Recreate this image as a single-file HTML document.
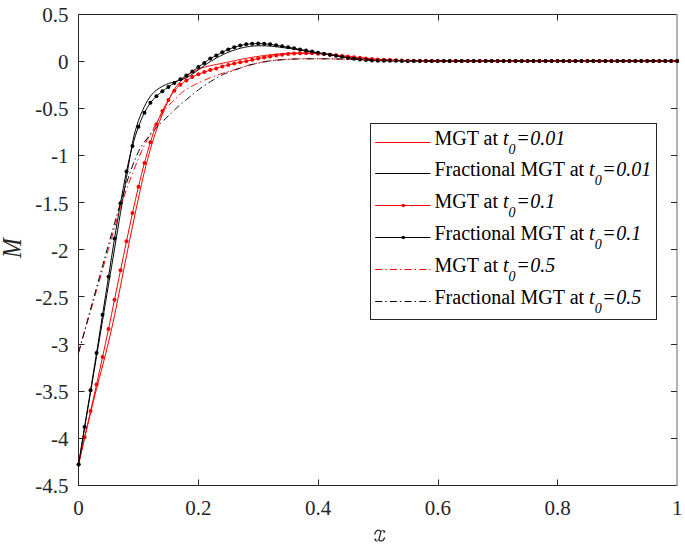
<!DOCTYPE html>
<html><head><meta charset="utf-8"><style>
html,body{margin:0;padding:0;background:#fff;}
body{width:685px;height:545px;overflow:hidden;}
svg{display:block;}
text{font-family:"Liberation Serif",serif;}
</style></head><body>
<svg width="685" height="545" viewBox="0 0 685 545"><rect width="685" height="545" fill="#fff"/><g stroke="#262626" stroke-width="1" fill="none"><path d="M78.5,14.5 H677 M78.5,485.5 H677 M78.5,14 V486"/><path d="M677,14 V486" stroke="#8a8a8a" stroke-width="1.3"/><path d="M198.5,485.5 V479.5 M198.5,14.5 V20.5 M318.5,485.5 V479.5 M318.5,14.5 V20.5 M438.5,485.5 V479.5 M438.5,14.5 V20.5 M557.5,485.5 V479.5 M557.5,14.5 V20.5 M78.5,61.5 H84.5 M677,61.5 H671 M78.5,108.5 H84.5 M677,108.5 H671 M78.5,155.5 H84.5 M677,155.5 H671 M78.5,202.5 H84.5 M677,202.5 H671 M78.5,249.5 H84.5 M677,249.5 H671 M78.5,296.5 H84.5 M677,296.5 H671 M78.5,344.5 H84.5 M677,344.5 H671 M78.5,391.5 H84.5 M677,391.5 H671 M78.5,438.5 H84.5 M677,438.5 H671"/></g><g fill="none" stroke-linejoin="round"><path d="M78.60,464.39 L80.10,457.80 L81.59,451.25 L83.09,444.75 L84.59,438.30 L86.08,431.89 L87.58,425.53 L89.08,419.22 L90.57,412.96 L92.07,406.76 L93.56,400.60 L95.06,394.57 L96.56,388.68 L98.05,382.91 L99.55,377.22 L101.05,371.55 L102.54,365.87 L104.04,360.14 L105.54,354.31 L107.03,348.35 L108.53,342.21 L110.03,335.85 L111.52,329.25 L113.02,322.42 L114.52,315.41 L116.01,308.23 L117.51,300.92 L119.01,293.51 L120.50,286.02 L122.00,278.48 L123.50,270.92 L124.99,263.37 L126.49,255.87 L127.98,248.43 L129.48,241.08 L130.98,233.84 L132.47,226.57 L133.97,219.30 L135.47,212.09 L136.96,204.98 L138.46,198.03 L139.96,191.19 L141.45,184.45 L142.95,177.91 L144.45,171.65 L145.94,165.65 L147.44,159.87 L148.94,154.32 L150.43,149.03 L151.93,144.01 L153.43,139.21 L154.92,134.61 L156.42,130.19 L157.91,125.94 L159.41,121.86 L160.91,117.94 L162.40,114.17 L163.90,110.54 L165.40,107.05 L166.89,103.69 L168.39,100.51 L169.89,97.43 L171.38,94.44 L172.88,91.66 L174.38,89.20 L175.87,87.04 L177.37,85.07 L178.87,83.28 L180.36,81.67 L181.86,80.21 L183.36,78.89 L184.85,77.66 L186.35,76.49 L187.84,75.33 L189.34,74.21 L190.84,73.17 L192.33,72.25 L193.83,71.44 L195.33,70.71 L196.82,70.05 L198.32,69.42 L199.82,68.82 L201.31,68.25 L202.81,67.73 L204.31,67.25 L205.80,66.83 L207.30,66.45 L208.80,66.09 L210.29,65.74 L211.79,65.41 L213.28,65.09 L214.78,64.79 L216.28,64.49 L217.77,64.19 L219.27,63.90 L220.77,63.60 L222.26,63.29 L223.76,62.98 L225.26,62.66 L226.75,62.34 L228.25,62.02 L229.75,61.70 L231.24,61.38 L232.74,61.06 L234.24,60.75 L235.73,60.44 L237.23,60.12 L238.73,59.80 L240.22,59.48 L241.72,59.17 L243.22,58.87 L244.71,58.58 L246.21,58.30 L247.70,58.04 L249.20,57.79 L250.70,57.54 L252.19,57.31 L253.69,57.08 L255.19,56.85 L256.68,56.63 L258.18,56.42 L259.68,56.20 L261.17,55.98 L262.67,55.77 L264.17,55.56 L265.66,55.36 L267.16,55.17 L268.66,54.99 L270.15,54.81 L271.65,54.65 L273.14,54.49 L274.64,54.34 L276.14,54.19 L277.63,54.05 L279.13,53.92 L280.63,53.79 L282.12,53.68 L283.62,53.58 L285.12,53.47 L286.61,53.37 L288.11,53.27 L289.61,53.18 L291.10,53.11 L292.60,53.06 L294.10,53.02 L295.59,53.00 L297.09,52.99 L298.59,52.97 L300.08,52.96 L301.58,52.95 L303.08,52.94 L304.57,52.93 L306.07,52.93 L307.56,52.94 L309.06,52.96 L310.56,53.00 L312.05,53.05 L313.55,53.11 L315.05,53.17 L316.54,53.24 L318.04,53.31 L319.54,53.39 L321.03,53.51 L322.53,53.64 L324.03,53.79 L325.52,53.95 L327.02,54.12 L328.52,54.28 L330.01,54.44 L331.51,54.59 L333.00,54.75 L334.50,54.92 L336.00,55.08 L337.49,55.25 L338.99,55.42 L340.49,55.59 L341.98,55.76 L343.48,55.92 L344.98,56.09 L346.47,56.26 L347.97,56.42 L349.47,56.59 L350.96,56.75 L352.46,56.92 L353.96,57.08 L355.45,57.23 L356.95,57.39 L358.45,57.55 L359.94,57.71 L361.44,57.86 L362.94,58.01 L364.43,58.16 L365.93,58.30 L367.42,58.44 L368.92,58.58 L370.42,58.72 L371.91,58.86 L373.41,58.99 L374.91,59.12 L376.40,59.23 L377.90,59.34 L379.40,59.44 L380.89,59.53 L382.39,59.62 L383.89,59.71 L385.38,59.80 L386.88,59.88 L388.38,59.96 L389.87,60.03 L391.37,60.10 L392.87,60.16 L394.36,60.22 L395.86,60.28 L397.35,60.33 L398.85,60.38 L400.35,60.43 L401.84,60.48 L403.34,60.52 L404.84,60.57 L406.33,60.61 L407.83,60.64 L409.33,60.67 L410.82,60.70 L412.32,60.73 L413.82,60.75 L415.31,60.77 L416.81,60.79 L418.31,60.80 L419.80,60.82 L421.30,60.84 L422.80,60.85 L424.29,60.87 L425.79,60.88 L427.28,60.89 L428.78,60.91 L430.28,60.92 L431.77,60.92 L433.27,60.93 L434.77,60.93 L436.26,60.94 L437.76,60.94 L439.26,60.94 L440.75,60.94 L442.25,60.94 L443.75,60.94 L445.24,60.94 L446.74,60.94 L448.24,60.94 L449.73,60.94 L451.23,60.94 L452.73,60.94 L454.22,60.94 L455.72,60.94 L457.21,60.94 L458.71,60.94 L460.21,60.94 L461.70,60.94 L463.20,60.94 L464.70,60.94 L466.19,60.94 L467.69,60.94 L469.19,60.94 L470.68,60.94 L472.18,60.94 L473.68,60.94 L475.17,60.94 L476.67,60.94 L478.17,60.94 L479.66,60.94 L481.16,60.94 L482.66,60.94 L484.15,60.94 L485.65,60.94 L487.14,60.94 L488.64,60.94 L490.14,60.94 L491.63,60.94 L493.13,60.94 L494.63,60.94 L496.12,60.94 L497.62,60.94 L499.12,60.94 L500.61,60.94 L502.11,60.94 L503.61,60.94 L505.10,60.94 L506.60,60.94 L508.10,60.94 L509.59,60.94 L511.09,60.94 L512.59,60.94 L514.08,60.94 L515.58,60.94 L517.07,60.94 L518.57,60.94 L520.07,60.94 L521.56,60.94 L523.06,60.94 L524.56,60.94 L526.05,60.94 L527.55,60.94 L529.05,60.94 L530.54,60.94 L532.04,60.94 L533.54,60.94 L535.03,60.94 L536.53,60.94 L538.03,60.94 L539.52,60.94 L541.02,60.94 L542.51,60.94 L544.01,60.94 L545.51,60.94 L547.00,60.94 L548.50,60.94 L550.00,60.94 L551.49,60.94 L552.99,60.94 L554.49,60.94 L555.98,60.94 L557.48,60.94 L558.98,60.94 L560.47,60.94 L561.97,60.94 L563.47,60.94 L564.96,60.94 L566.46,60.94 L567.96,60.94 L569.45,60.94 L570.95,60.94 L572.45,60.94 L573.94,60.94 L575.44,60.94 L576.93,60.94 L578.43,60.94 L579.93,60.94 L581.42,60.94 L582.92,60.94 L584.42,60.94 L585.91,60.94 L587.41,60.94 L588.91,60.94 L590.40,60.94 L591.90,60.94 L593.40,60.94 L594.89,60.94 L596.39,60.94 L597.89,60.94 L599.38,60.94 L600.88,60.94 L602.38,60.94 L603.87,60.94 L605.37,60.94 L606.86,60.94 L608.36,60.94 L609.86,60.94 L611.35,60.94 L612.85,60.94 L614.35,60.94 L615.84,60.94 L617.34,60.94 L618.84,60.94 L620.33,60.94 L621.83,60.94 L623.33,60.94 L624.82,60.94 L626.32,60.94 L627.82,60.94 L629.31,60.94 L630.81,60.94 L632.31,60.94 L633.80,60.94 L635.30,60.94 L636.79,60.94 L638.29,60.94 L639.79,60.94 L641.28,60.94 L642.78,60.94 L644.28,60.94 L645.77,60.94 L647.27,60.94 L648.77,60.94 L650.26,60.94 L651.76,60.94 L653.26,60.94 L654.75,60.94 L656.25,60.94 L657.75,60.94 L659.24,60.94 L660.74,60.94 L662.24,60.94 L663.73,60.94 L665.23,60.94 L666.72,60.94 L668.22,60.94 L669.72,60.94 L671.21,60.94 L672.71,60.94 L674.21,60.94 L675.70,60.94 L677.20,60.94" stroke="#ff0000" stroke-width="1.0"/><path d="M78.60,464.39 L80.10,455.21 L81.59,446.07 L83.09,436.98 L84.59,427.93 L86.08,418.93 L87.58,409.98 L89.08,401.06 L90.57,392.12 L92.07,383.17 L93.56,374.22 L95.06,365.27 L96.56,356.32 L98.05,347.37 L99.55,338.42 L101.05,329.47 L102.54,320.51 L104.04,311.56 L105.54,302.61 L107.03,293.66 L108.53,284.71 L110.03,275.77 L111.52,266.84 L113.02,257.89 L114.52,248.91 L116.01,239.86 L117.51,230.77 L119.01,221.68 L120.50,212.63 L122.00,203.64 L123.50,194.73 L124.99,186.00 L126.49,177.30 L127.98,168.44 L129.48,159.68 L130.98,151.14 L132.47,143.07 L133.97,135.98 L135.47,130.22 L136.96,125.11 L138.46,120.58 L139.96,116.64 L141.45,113.04 L142.95,109.63 L144.45,106.45 L145.94,103.49 L147.44,100.79 L148.94,98.40 L150.43,96.27 L151.93,94.38 L153.43,92.71 L154.92,91.34 L156.42,90.18 L157.91,89.13 L159.41,88.11 L160.91,87.15 L162.40,86.28 L163.90,85.51 L165.40,84.81 L166.89,84.19 L168.39,83.65 L169.89,83.17 L171.38,82.70 L172.88,82.25 L174.38,81.82 L175.87,81.39 L177.37,80.96 L178.87,80.53 L180.36,80.07 L181.86,79.56 L183.36,79.03 L184.85,78.45 L186.35,77.80 L187.84,77.04 L189.34,76.16 L190.84,75.21 L192.33,74.22 L193.83,73.18 L195.33,72.06 L196.82,70.91 L198.32,69.80 L199.82,68.72 L201.31,67.65 L202.81,66.59 L204.31,65.56 L205.80,64.54 L207.30,63.53 L208.80,62.55 L210.29,61.60 L211.79,60.69 L213.28,59.80 L214.78,58.95 L216.28,58.11 L217.77,57.30 L219.27,56.51 L220.77,55.74 L222.26,55.00 L223.76,54.28 L225.26,53.58 L226.75,52.90 L228.25,52.27 L229.75,51.68 L231.24,51.13 L232.74,50.60 L234.24,50.10 L235.73,49.62 L237.23,49.15 L238.73,48.71 L240.22,48.31 L241.72,47.94 L243.22,47.59 L244.71,47.27 L246.21,46.99 L247.70,46.74 L249.20,46.51 L250.70,46.30 L252.19,46.15 L253.69,46.01 L255.19,45.89 L256.68,45.80 L258.18,45.77 L259.68,45.77 L261.17,45.77 L262.67,45.77 L264.17,45.77 L265.66,45.81 L267.16,45.90 L268.66,46.02 L270.15,46.15 L271.65,46.27 L273.14,46.40 L274.64,46.55 L276.14,46.71 L277.63,46.88 L279.13,47.07 L280.63,47.27 L282.12,47.47 L283.62,47.67 L285.12,47.88 L286.61,48.10 L288.11,48.31 L289.61,48.52 L291.10,48.73 L292.60,48.94 L294.10,49.16 L295.59,49.39 L297.09,49.62 L298.59,49.86 L300.08,50.10 L301.58,50.36 L303.08,50.62 L304.57,50.89 L306.07,51.14 L307.56,51.38 L309.06,51.62 L310.56,51.85 L312.05,52.08 L313.55,52.32 L315.05,52.56 L316.54,52.79 L318.04,53.02 L319.54,53.25 L321.03,53.48 L322.53,53.70 L324.03,53.92 L325.52,54.14 L327.02,54.36 L328.52,54.59 L330.01,54.81 L331.51,55.05 L333.00,55.28 L334.50,55.52 L336.00,55.76 L337.49,56.00 L338.99,56.23 L340.49,56.47 L341.98,56.70 L343.48,56.93 L344.98,57.17 L346.47,57.41 L347.97,57.64 L349.47,57.87 L350.96,58.09 L352.46,58.30 L353.96,58.49 L355.45,58.67 L356.95,58.84 L358.45,59.01 L359.94,59.18 L361.44,59.33 L362.94,59.47 L364.43,59.60 L365.93,59.71 L367.42,59.82 L368.92,59.92 L370.42,60.02 L371.91,60.10 L373.41,60.19 L374.91,60.26 L376.40,60.32 L377.90,60.37 L379.40,60.42 L380.89,60.46 L382.39,60.50 L383.89,60.54 L385.38,60.57 L386.88,60.60 L388.38,60.63 L389.87,60.66 L391.37,60.68 L392.87,60.71 L394.36,60.73 L395.86,60.75 L397.35,60.77 L398.85,60.79 L400.35,60.82 L401.84,60.84 L403.34,60.86 L404.84,60.88 L406.33,60.89 L407.83,60.91 L409.33,60.92 L410.82,60.93 L412.32,60.94 L413.82,60.94 L415.31,60.94 L416.81,60.94 L418.31,60.94 L419.80,60.94 L421.30,60.94 L422.80,60.94 L424.29,60.94 L425.79,60.94 L427.28,60.94 L428.78,60.94 L430.28,60.94 L431.77,60.94 L433.27,60.94 L434.77,60.94 L436.26,60.94 L437.76,60.94 L439.26,60.94 L440.75,60.94 L442.25,60.94 L443.75,60.94 L445.24,60.94 L446.74,60.94 L448.24,60.94 L449.73,60.94 L451.23,60.94 L452.73,60.94 L454.22,60.94 L455.72,60.94 L457.21,60.94 L458.71,60.94 L460.21,60.94 L461.70,60.94 L463.20,60.94 L464.70,60.94 L466.19,60.94 L467.69,60.94 L469.19,60.94 L470.68,60.94 L472.18,60.94 L473.68,60.94 L475.17,60.94 L476.67,60.94 L478.17,60.94 L479.66,60.94 L481.16,60.94 L482.66,60.94 L484.15,60.94 L485.65,60.94 L487.14,60.94 L488.64,60.94 L490.14,60.94 L491.63,60.94 L493.13,60.94 L494.63,60.94 L496.12,60.94 L497.62,60.94 L499.12,60.94 L500.61,60.94 L502.11,60.94 L503.61,60.94 L505.10,60.94 L506.60,60.94 L508.10,60.94 L509.59,60.94 L511.09,60.94 L512.59,60.94 L514.08,60.94 L515.58,60.94 L517.07,60.94 L518.57,60.94 L520.07,60.94 L521.56,60.94 L523.06,60.94 L524.56,60.94 L526.05,60.94 L527.55,60.94 L529.05,60.94 L530.54,60.94 L532.04,60.94 L533.54,60.94 L535.03,60.94 L536.53,60.94 L538.03,60.94 L539.52,60.94 L541.02,60.94 L542.51,60.94 L544.01,60.94 L545.51,60.94 L547.00,60.94 L548.50,60.94 L550.00,60.94 L551.49,60.94 L552.99,60.94 L554.49,60.94 L555.98,60.94 L557.48,60.94 L558.98,60.94 L560.47,60.94 L561.97,60.94 L563.47,60.94 L564.96,60.94 L566.46,60.94 L567.96,60.94 L569.45,60.94 L570.95,60.94 L572.45,60.94 L573.94,60.94 L575.44,60.94 L576.93,60.94 L578.43,60.94 L579.93,60.94 L581.42,60.94 L582.92,60.94 L584.42,60.94 L585.91,60.94 L587.41,60.94 L588.91,60.94 L590.40,60.94 L591.90,60.94 L593.40,60.94 L594.89,60.94 L596.39,60.94 L597.89,60.94 L599.38,60.94 L600.88,60.94 L602.38,60.94 L603.87,60.94 L605.37,60.94 L606.86,60.94 L608.36,60.94 L609.86,60.94 L611.35,60.94 L612.85,60.94 L614.35,60.94 L615.84,60.94 L617.34,60.94 L618.84,60.94 L620.33,60.94 L621.83,60.94 L623.33,60.94 L624.82,60.94 L626.32,60.94 L627.82,60.94 L629.31,60.94 L630.81,60.94 L632.31,60.94 L633.80,60.94 L635.30,60.94 L636.79,60.94 L638.29,60.94 L639.79,60.94 L641.28,60.94 L642.78,60.94 L644.28,60.94 L645.77,60.94 L647.27,60.94 L648.77,60.94 L650.26,60.94 L651.76,60.94 L653.26,60.94 L654.75,60.94 L656.25,60.94 L657.75,60.94 L659.24,60.94 L660.74,60.94 L662.24,60.94 L663.73,60.94 L665.23,60.94 L666.72,60.94 L668.22,60.94 L669.72,60.94 L671.21,60.94 L672.71,60.94 L674.21,60.94 L675.70,60.94 L677.20,60.94" stroke="#000000" stroke-width="1.0"/><path d="M78.60,464.39 L80.10,457.57 L81.59,450.79 L83.09,444.05 L84.59,437.35 L86.08,430.71 L87.58,424.12 L89.08,417.55 L90.57,410.97 L92.07,404.40 L93.56,397.85 L95.06,391.26 L96.56,384.58 L98.05,377.78 L99.55,370.88 L101.05,363.94 L102.54,356.98 L104.04,350.04 L105.54,343.09 L107.03,336.08 L108.53,328.99 L110.03,321.79 L111.52,314.49 L113.02,307.14 L114.52,299.79 L116.01,292.42 L117.51,285.02 L119.01,277.63 L120.50,270.30 L122.00,263.01 L123.50,255.76 L124.99,248.54 L126.49,241.37 L127.98,234.21 L129.48,227.07 L130.98,220.02 L132.47,213.10 L133.97,206.32 L135.47,199.63 L136.96,193.08 L138.46,186.72 L139.96,180.54 L141.45,174.49 L142.95,168.63 L144.45,162.98 L145.94,157.53 L147.44,152.25 L148.94,147.15 L150.43,142.25 L151.93,137.47 L153.43,132.80 L154.92,128.39 L156.42,124.35 L157.91,120.69 L159.41,117.31 L160.91,114.12 L162.40,111.06 L163.90,108.12 L165.40,105.31 L166.89,102.62 L168.39,100.04 L169.89,97.50 L171.38,95.02 L172.88,92.72 L174.38,90.71 L175.87,89.00 L177.37,87.46 L178.87,86.06 L180.36,84.78 L181.86,83.60 L183.36,82.52 L184.85,81.51 L186.35,80.54 L187.84,79.58 L189.34,78.65 L190.84,77.77 L192.33,76.96 L193.83,76.21 L195.33,75.50 L196.82,74.85 L198.32,74.22 L199.82,73.64 L201.31,73.10 L202.81,72.57 L204.31,72.06 L205.80,71.54 L207.30,71.04 L208.80,70.55 L210.29,70.08 L211.79,69.64 L213.28,69.22 L214.78,68.81 L216.28,68.38 L217.77,67.94 L219.27,67.48 L220.77,67.03 L222.26,66.59 L223.76,66.17 L225.26,65.77 L226.75,65.37 L228.25,64.99 L229.75,64.62 L231.24,64.26 L232.74,63.91 L234.24,63.58 L235.73,63.26 L237.23,62.95 L238.73,62.65 L240.22,62.35 L241.72,62.05 L243.22,61.75 L244.71,61.44 L246.21,61.13 L247.70,60.80 L249.20,60.47 L250.70,60.13 L252.19,59.81 L253.69,59.49 L255.19,59.18 L256.68,58.87 L258.18,58.58 L259.68,58.31 L261.17,58.06 L262.67,57.81 L264.17,57.55 L265.66,57.27 L267.16,56.97 L268.66,56.69 L270.15,56.42 L271.65,56.17 L273.14,55.93 L274.64,55.70 L276.14,55.47 L277.63,55.25 L279.13,55.03 L280.63,54.82 L282.12,54.63 L283.62,54.44 L285.12,54.26 L286.61,54.10 L288.11,53.97 L289.61,53.86 L291.10,53.76 L292.60,53.67 L294.10,53.59 L295.59,53.51 L297.09,53.43 L298.59,53.36 L300.08,53.31 L301.58,53.27 L303.08,53.24 L304.57,53.22 L306.07,53.21 L307.56,53.22 L309.06,53.24 L310.56,53.27 L312.05,53.31 L313.55,53.37 L315.05,53.46 L316.54,53.57 L318.04,53.68 L319.54,53.79 L321.03,53.90 L322.53,54.01 L324.03,54.12 L325.52,54.24 L327.02,54.36 L328.52,54.49 L330.01,54.63 L331.51,54.77 L333.00,54.93 L334.50,55.09 L336.00,55.26 L337.49,55.43 L338.99,55.61 L340.49,55.78 L341.98,55.95 L343.48,56.11 L344.98,56.28 L346.47,56.45 L347.97,56.62 L349.47,56.78 L350.96,56.95 L352.46,57.11 L353.96,57.26 L355.45,57.41 L356.95,57.56 L358.45,57.71 L359.94,57.85 L361.44,57.99 L362.94,58.12 L364.43,58.26 L365.93,58.39 L367.42,58.53 L368.92,58.67 L370.42,58.82 L371.91,58.96 L373.41,59.09 L374.91,59.22 L376.40,59.33 L377.90,59.43 L379.40,59.52 L380.89,59.61 L382.39,59.69 L383.89,59.77 L385.38,59.85 L386.88,59.92 L388.38,59.99 L389.87,60.05 L391.37,60.11 L392.87,60.17 L394.36,60.23 L395.86,60.28 L397.35,60.33 L398.85,60.38 L400.35,60.43 L401.84,60.47 L403.34,60.52 L404.84,60.56 L406.33,60.60 L407.83,60.64 L409.33,60.67 L410.82,60.70 L412.32,60.73 L413.82,60.75 L415.31,60.77 L416.81,60.79 L418.31,60.80 L419.80,60.82 L421.30,60.84 L422.80,60.85 L424.29,60.87 L425.79,60.88 L427.28,60.89 L428.78,60.91 L430.28,60.92 L431.77,60.92 L433.27,60.93 L434.77,60.93 L436.26,60.94 L437.76,60.94 L439.26,60.94 L440.75,60.94 L442.25,60.94 L443.75,60.94 L445.24,60.94 L446.74,60.94 L448.24,60.94 L449.73,60.94 L451.23,60.94 L452.73,60.94 L454.22,60.94 L455.72,60.94 L457.21,60.94 L458.71,60.94 L460.21,60.94 L461.70,60.94 L463.20,60.94 L464.70,60.94 L466.19,60.94 L467.69,60.94 L469.19,60.94 L470.68,60.94 L472.18,60.94 L473.68,60.94 L475.17,60.94 L476.67,60.94 L478.17,60.94 L479.66,60.94 L481.16,60.94 L482.66,60.94 L484.15,60.94 L485.65,60.94 L487.14,60.94 L488.64,60.94 L490.14,60.94 L491.63,60.94 L493.13,60.94 L494.63,60.94 L496.12,60.94 L497.62,60.94 L499.12,60.94 L500.61,60.94 L502.11,60.94 L503.61,60.94 L505.10,60.94 L506.60,60.94 L508.10,60.94 L509.59,60.94 L511.09,60.94 L512.59,60.94 L514.08,60.94 L515.58,60.94 L517.07,60.94 L518.57,60.94 L520.07,60.94 L521.56,60.94 L523.06,60.94 L524.56,60.94 L526.05,60.94 L527.55,60.94 L529.05,60.94 L530.54,60.94 L532.04,60.94 L533.54,60.94 L535.03,60.94 L536.53,60.94 L538.03,60.94 L539.52,60.94 L541.02,60.94 L542.51,60.94 L544.01,60.94 L545.51,60.94 L547.00,60.94 L548.50,60.94 L550.00,60.94 L551.49,60.94 L552.99,60.94 L554.49,60.94 L555.98,60.94 L557.48,60.94 L558.98,60.94 L560.47,60.94 L561.97,60.94 L563.47,60.94 L564.96,60.94 L566.46,60.94 L567.96,60.94 L569.45,60.94 L570.95,60.94 L572.45,60.94 L573.94,60.94 L575.44,60.94 L576.93,60.94 L578.43,60.94 L579.93,60.94 L581.42,60.94 L582.92,60.94 L584.42,60.94 L585.91,60.94 L587.41,60.94 L588.91,60.94 L590.40,60.94 L591.90,60.94 L593.40,60.94 L594.89,60.94 L596.39,60.94 L597.89,60.94 L599.38,60.94 L600.88,60.94 L602.38,60.94 L603.87,60.94 L605.37,60.94 L606.86,60.94 L608.36,60.94 L609.86,60.94 L611.35,60.94 L612.85,60.94 L614.35,60.94 L615.84,60.94 L617.34,60.94 L618.84,60.94 L620.33,60.94 L621.83,60.94 L623.33,60.94 L624.82,60.94 L626.32,60.94 L627.82,60.94 L629.31,60.94 L630.81,60.94 L632.31,60.94 L633.80,60.94 L635.30,60.94 L636.79,60.94 L638.29,60.94 L639.79,60.94 L641.28,60.94 L642.78,60.94 L644.28,60.94 L645.77,60.94 L647.27,60.94 L648.77,60.94 L650.26,60.94 L651.76,60.94 L653.26,60.94 L654.75,60.94 L656.25,60.94 L657.75,60.94 L659.24,60.94 L660.74,60.94 L662.24,60.94 L663.73,60.94 L665.23,60.94 L666.72,60.94 L668.22,60.94 L669.72,60.94 L671.21,60.94 L672.71,60.94 L674.21,60.94 L675.70,60.94 L677.20,60.94" stroke="#ff0000" stroke-width="1.0"/><g fill="#ff0000"><circle cx="78.60" cy="464.39" r="2"/><circle cx="84.59" cy="437.35" r="2"/><circle cx="90.57" cy="410.97" r="2"/><circle cx="96.56" cy="384.58" r="2"/><circle cx="102.54" cy="356.98" r="2"/><circle cx="108.53" cy="328.99" r="2"/><circle cx="114.52" cy="299.79" r="2"/><circle cx="120.50" cy="270.30" r="2"/><circle cx="126.49" cy="241.37" r="2"/><circle cx="132.47" cy="213.10" r="2"/><circle cx="138.46" cy="186.72" r="2"/><circle cx="144.45" cy="162.98" r="2"/><circle cx="150.43" cy="142.25" r="2"/><circle cx="156.42" cy="124.35" r="2"/><circle cx="162.40" cy="111.06" r="2"/><circle cx="168.39" cy="100.04" r="2"/><circle cx="174.38" cy="90.71" r="2"/><circle cx="180.36" cy="84.78" r="2"/><circle cx="186.35" cy="80.54" r="2"/><circle cx="192.33" cy="76.96" r="2"/><circle cx="198.32" cy="74.22" r="2"/><circle cx="204.31" cy="72.06" r="2"/><circle cx="210.29" cy="70.08" r="2"/><circle cx="216.28" cy="68.38" r="2"/><circle cx="222.26" cy="66.59" r="2"/><circle cx="228.25" cy="64.99" r="2"/><circle cx="234.24" cy="63.58" r="2"/><circle cx="240.22" cy="62.35" r="2"/><circle cx="246.21" cy="61.13" r="2"/><circle cx="252.19" cy="59.81" r="2"/><circle cx="258.18" cy="58.58" r="2"/><circle cx="264.17" cy="57.55" r="2"/><circle cx="270.15" cy="56.42" r="2"/><circle cx="276.14" cy="55.47" r="2"/><circle cx="282.12" cy="54.63" r="2"/><circle cx="288.11" cy="53.97" r="2"/><circle cx="294.10" cy="53.59" r="2"/><circle cx="300.08" cy="53.31" r="2"/><circle cx="306.07" cy="53.21" r="2"/><circle cx="312.05" cy="53.31" r="2"/><circle cx="318.04" cy="53.68" r="2"/><circle cx="324.03" cy="54.12" r="2"/><circle cx="330.01" cy="54.63" r="2"/><circle cx="336.00" cy="55.26" r="2"/><circle cx="341.98" cy="55.95" r="2"/><circle cx="347.97" cy="56.62" r="2"/><circle cx="353.96" cy="57.26" r="2"/><circle cx="359.94" cy="57.85" r="2"/><circle cx="365.93" cy="58.39" r="2"/><circle cx="371.91" cy="58.96" r="2"/><circle cx="377.90" cy="59.43" r="2"/><circle cx="383.89" cy="59.77" r="2"/><circle cx="389.87" cy="60.05" r="2"/><circle cx="395.86" cy="60.28" r="2"/><circle cx="401.84" cy="60.47" r="2"/><circle cx="407.83" cy="60.64" r="2"/><circle cx="413.82" cy="60.75" r="2"/><circle cx="419.80" cy="60.82" r="2"/><circle cx="425.79" cy="60.88" r="2"/><circle cx="431.77" cy="60.92" r="2"/><circle cx="437.76" cy="60.94" r="2"/><circle cx="443.75" cy="60.94" r="2"/><circle cx="449.73" cy="60.94" r="2"/><circle cx="455.72" cy="60.94" r="2"/><circle cx="461.70" cy="60.94" r="2"/><circle cx="467.69" cy="60.94" r="2"/><circle cx="473.68" cy="60.94" r="2"/><circle cx="479.66" cy="60.94" r="2"/><circle cx="485.65" cy="60.94" r="2"/><circle cx="491.63" cy="60.94" r="2"/><circle cx="497.62" cy="60.94" r="2"/><circle cx="503.61" cy="60.94" r="2"/><circle cx="509.59" cy="60.94" r="2"/><circle cx="515.58" cy="60.94" r="2"/><circle cx="521.56" cy="60.94" r="2"/><circle cx="527.55" cy="60.94" r="2"/><circle cx="533.54" cy="60.94" r="2"/><circle cx="539.52" cy="60.94" r="2"/><circle cx="545.51" cy="60.94" r="2"/><circle cx="551.49" cy="60.94" r="2"/><circle cx="557.48" cy="60.94" r="2"/><circle cx="563.47" cy="60.94" r="2"/><circle cx="569.45" cy="60.94" r="2"/><circle cx="575.44" cy="60.94" r="2"/><circle cx="581.42" cy="60.94" r="2"/><circle cx="587.41" cy="60.94" r="2"/><circle cx="593.40" cy="60.94" r="2"/><circle cx="599.38" cy="60.94" r="2"/><circle cx="605.37" cy="60.94" r="2"/><circle cx="611.35" cy="60.94" r="2"/><circle cx="617.34" cy="60.94" r="2"/><circle cx="623.33" cy="60.94" r="2"/><circle cx="629.31" cy="60.94" r="2"/><circle cx="635.30" cy="60.94" r="2"/><circle cx="641.28" cy="60.94" r="2"/><circle cx="647.27" cy="60.94" r="2"/><circle cx="653.26" cy="60.94" r="2"/><circle cx="659.24" cy="60.94" r="2"/><circle cx="665.23" cy="60.94" r="2"/><circle cx="671.21" cy="60.94" r="2"/><circle cx="677.20" cy="60.94" r="2"/></g><path d="M78.60,464.39 L80.10,454.98 L81.59,445.60 L83.09,436.27 L84.59,426.98 L86.08,417.76 L87.58,408.59 L89.08,399.44 L90.57,390.24 L92.07,381.01 L93.56,371.77 L95.06,362.48 L96.56,353.12 L98.05,343.63 L99.55,334.05 L101.05,324.45 L102.54,314.86 L104.04,305.32 L105.54,295.78 L107.03,286.24 L108.53,276.70 L110.03,267.09 L111.52,257.44 L113.02,247.88 L114.52,238.54 L116.01,229.43 L117.51,220.47 L119.01,211.72 L120.50,203.21 L122.00,194.87 L123.50,186.69 L124.99,178.83 L126.49,171.46 L127.98,164.52 L129.48,157.90 L130.98,151.67 L132.47,145.93 L133.97,140.60 L135.47,135.59 L136.96,130.95 L138.46,126.70 L139.96,122.80 L141.45,119.16 L142.95,115.81 L144.45,112.76 L145.94,109.96 L147.44,107.36 L148.94,104.98 L150.43,102.87 L151.93,100.99 L153.43,99.29 L154.92,97.73 L156.42,96.27 L157.91,94.91 L159.41,93.64 L160.91,92.44 L162.40,91.28 L163.90,90.17 L165.40,89.11 L166.89,88.07 L168.39,87.04 L169.89,85.98 L171.38,84.92 L172.88,83.88 L174.38,82.89 L175.87,81.96 L177.37,81.08 L178.87,80.21 L180.36,79.31 L181.86,78.39 L183.36,77.46 L184.85,76.51 L186.35,75.54 L187.84,74.54 L189.34,73.51 L190.84,72.46 L192.33,71.40 L193.83,70.30 L195.33,69.18 L196.82,68.06 L198.32,66.97 L199.82,65.94 L201.31,64.94 L202.81,63.94 L204.31,62.92 L205.80,61.82 L207.30,60.67 L208.80,59.56 L210.29,58.58 L211.79,57.76 L213.28,57.03 L214.78,56.32 L216.28,55.57 L217.77,54.75 L219.27,53.91 L220.77,53.07 L222.26,52.27 L223.76,51.52 L225.26,50.78 L226.75,50.09 L228.25,49.44 L229.75,48.85 L231.24,48.29 L232.74,47.77 L234.24,47.28 L235.73,46.81 L237.23,46.37 L238.73,45.96 L240.22,45.58 L241.72,45.23 L243.22,44.89 L244.71,44.59 L246.21,44.36 L247.70,44.17 L249.20,44.01 L250.70,43.88 L252.19,43.79 L253.69,43.72 L255.19,43.66 L256.68,43.62 L258.18,43.60 L259.68,43.62 L261.17,43.66 L262.67,43.72 L264.17,43.79 L265.66,43.89 L267.16,44.02 L268.66,44.18 L270.15,44.36 L271.65,44.56 L273.14,44.79 L274.64,45.05 L276.14,45.30 L277.63,45.55 L279.13,45.82 L280.63,46.08 L282.12,46.33 L283.62,46.57 L285.12,46.81 L286.61,47.04 L288.11,47.28 L289.61,47.53 L291.10,47.78 L292.60,48.05 L294.10,48.31 L295.59,48.59 L297.09,48.88 L298.59,49.17 L300.08,49.44 L301.58,49.71 L303.08,49.96 L304.57,50.22 L306.07,50.48 L307.56,50.76 L309.06,51.05 L310.56,51.33 L312.05,51.61 L313.55,51.88 L315.05,52.13 L316.54,52.39 L318.04,52.65 L319.54,52.91 L321.03,53.17 L322.53,53.42 L324.03,53.68 L325.52,53.94 L327.02,54.20 L328.52,54.46 L330.01,54.72 L331.51,54.98 L333.00,55.24 L334.50,55.50 L336.00,55.76 L337.49,56.01 L338.99,56.27 L340.49,56.53 L341.98,56.79 L343.48,57.08 L344.98,57.37 L346.47,57.66 L347.97,57.92 L349.47,58.16 L350.96,58.38 L352.46,58.58 L353.96,58.77 L355.45,58.95 L356.95,59.12 L358.45,59.28 L359.94,59.43 L361.44,59.58 L362.94,59.73 L364.43,59.87 L365.93,60.00 L367.42,60.12 L368.92,60.24 L370.42,60.36 L371.91,60.47 L373.41,60.58 L374.91,60.66 L376.40,60.72 L377.90,60.75 L379.40,60.76 L380.89,60.78 L382.39,60.79 L383.89,60.80 L385.38,60.80 L386.88,60.81 L388.38,60.81 L389.87,60.82 L391.37,60.83 L392.87,60.83 L394.36,60.84 L395.86,60.84 L397.35,60.85 L398.85,60.86 L400.35,60.87 L401.84,60.88 L403.34,60.89 L404.84,60.90 L406.33,60.91 L407.83,60.92 L409.33,60.93 L410.82,60.93 L412.32,60.94 L413.82,60.94 L415.31,60.94 L416.81,60.94 L418.31,60.94 L419.80,60.94 L421.30,60.94 L422.80,60.94 L424.29,60.94 L425.79,60.94 L427.28,60.94 L428.78,60.94 L430.28,60.94 L431.77,60.94 L433.27,60.94 L434.77,60.94 L436.26,60.94 L437.76,60.94 L439.26,60.94 L440.75,60.94 L442.25,60.94 L443.75,60.94 L445.24,60.94 L446.74,60.94 L448.24,60.94 L449.73,60.94 L451.23,60.94 L452.73,60.94 L454.22,60.94 L455.72,60.94 L457.21,60.94 L458.71,60.94 L460.21,60.94 L461.70,60.94 L463.20,60.94 L464.70,60.94 L466.19,60.94 L467.69,60.94 L469.19,60.94 L470.68,60.94 L472.18,60.94 L473.68,60.94 L475.17,60.94 L476.67,60.94 L478.17,60.94 L479.66,60.94 L481.16,60.94 L482.66,60.94 L484.15,60.94 L485.65,60.94 L487.14,60.94 L488.64,60.94 L490.14,60.94 L491.63,60.94 L493.13,60.94 L494.63,60.94 L496.12,60.94 L497.62,60.94 L499.12,60.94 L500.61,60.94 L502.11,60.94 L503.61,60.94 L505.10,60.94 L506.60,60.94 L508.10,60.94 L509.59,60.94 L511.09,60.94 L512.59,60.94 L514.08,60.94 L515.58,60.94 L517.07,60.94 L518.57,60.94 L520.07,60.94 L521.56,60.94 L523.06,60.94 L524.56,60.94 L526.05,60.94 L527.55,60.94 L529.05,60.94 L530.54,60.94 L532.04,60.94 L533.54,60.94 L535.03,60.94 L536.53,60.94 L538.03,60.94 L539.52,60.94 L541.02,60.94 L542.51,60.94 L544.01,60.94 L545.51,60.94 L547.00,60.94 L548.50,60.94 L550.00,60.94 L551.49,60.94 L552.99,60.94 L554.49,60.94 L555.98,60.94 L557.48,60.94 L558.98,60.94 L560.47,60.94 L561.97,60.94 L563.47,60.94 L564.96,60.94 L566.46,60.94 L567.96,60.94 L569.45,60.94 L570.95,60.94 L572.45,60.94 L573.94,60.94 L575.44,60.94 L576.93,60.94 L578.43,60.94 L579.93,60.94 L581.42,60.94 L582.92,60.94 L584.42,60.94 L585.91,60.94 L587.41,60.94 L588.91,60.94 L590.40,60.94 L591.90,60.94 L593.40,60.94 L594.89,60.94 L596.39,60.94 L597.89,60.94 L599.38,60.94 L600.88,60.94 L602.38,60.94 L603.87,60.94 L605.37,60.94 L606.86,60.94 L608.36,60.94 L609.86,60.94 L611.35,60.94 L612.85,60.94 L614.35,60.94 L615.84,60.94 L617.34,60.94 L618.84,60.94 L620.33,60.94 L621.83,60.94 L623.33,60.94 L624.82,60.94 L626.32,60.94 L627.82,60.94 L629.31,60.94 L630.81,60.94 L632.31,60.94 L633.80,60.94 L635.30,60.94 L636.79,60.94 L638.29,60.94 L639.79,60.94 L641.28,60.94 L642.78,60.94 L644.28,60.94 L645.77,60.94 L647.27,60.94 L648.77,60.94 L650.26,60.94 L651.76,60.94 L653.26,60.94 L654.75,60.94 L656.25,60.94 L657.75,60.94 L659.24,60.94 L660.74,60.94 L662.24,60.94 L663.73,60.94 L665.23,60.94 L666.72,60.94 L668.22,60.94 L669.72,60.94 L671.21,60.94 L672.71,60.94 L674.21,60.94 L675.70,60.94 L677.20,60.94" stroke="#000000" stroke-width="1.0"/><g fill="#000000"><circle cx="78.60" cy="464.39" r="2"/><circle cx="84.59" cy="426.98" r="2"/><circle cx="90.57" cy="390.24" r="2"/><circle cx="96.56" cy="353.12" r="2"/><circle cx="102.54" cy="314.86" r="2"/><circle cx="108.53" cy="276.70" r="2"/><circle cx="114.52" cy="238.54" r="2"/><circle cx="120.50" cy="203.21" r="2"/><circle cx="126.49" cy="171.46" r="2"/><circle cx="132.47" cy="145.93" r="2"/><circle cx="138.46" cy="126.70" r="2"/><circle cx="144.45" cy="112.76" r="2"/><circle cx="150.43" cy="102.87" r="2"/><circle cx="156.42" cy="96.27" r="2"/><circle cx="162.40" cy="91.28" r="2"/><circle cx="168.39" cy="87.04" r="2"/><circle cx="174.38" cy="82.89" r="2"/><circle cx="180.36" cy="79.31" r="2"/><circle cx="186.35" cy="75.54" r="2"/><circle cx="192.33" cy="71.40" r="2"/><circle cx="198.32" cy="66.97" r="2"/><circle cx="204.31" cy="62.92" r="2"/><circle cx="210.29" cy="58.58" r="2"/><circle cx="216.28" cy="55.57" r="2"/><circle cx="222.26" cy="52.27" r="2"/><circle cx="228.25" cy="49.44" r="2"/><circle cx="234.24" cy="47.28" r="2"/><circle cx="240.22" cy="45.58" r="2"/><circle cx="246.21" cy="44.36" r="2"/><circle cx="252.19" cy="43.79" r="2"/><circle cx="258.18" cy="43.60" r="2"/><circle cx="264.17" cy="43.79" r="2"/><circle cx="270.15" cy="44.36" r="2"/><circle cx="276.14" cy="45.30" r="2"/><circle cx="282.12" cy="46.33" r="2"/><circle cx="288.11" cy="47.28" r="2"/><circle cx="294.10" cy="48.31" r="2"/><circle cx="300.08" cy="49.44" r="2"/><circle cx="306.07" cy="50.48" r="2"/><circle cx="312.05" cy="51.61" r="2"/><circle cx="318.04" cy="52.65" r="2"/><circle cx="324.03" cy="53.68" r="2"/><circle cx="330.01" cy="54.72" r="2"/><circle cx="336.00" cy="55.76" r="2"/><circle cx="341.98" cy="56.79" r="2"/><circle cx="347.97" cy="57.92" r="2"/><circle cx="353.96" cy="58.77" r="2"/><circle cx="359.94" cy="59.43" r="2"/><circle cx="365.93" cy="60.00" r="2"/><circle cx="371.91" cy="60.47" r="2"/><circle cx="377.90" cy="60.75" r="2"/><circle cx="383.89" cy="60.80" r="2"/><circle cx="389.87" cy="60.82" r="2"/><circle cx="395.86" cy="60.84" r="2"/><circle cx="401.84" cy="60.88" r="2"/><circle cx="407.83" cy="60.92" r="2"/><circle cx="413.82" cy="60.94" r="2"/><circle cx="419.80" cy="60.94" r="2"/><circle cx="425.79" cy="60.94" r="2"/><circle cx="431.77" cy="60.94" r="2"/><circle cx="437.76" cy="60.94" r="2"/><circle cx="443.75" cy="60.94" r="2"/><circle cx="449.73" cy="60.94" r="2"/><circle cx="455.72" cy="60.94" r="2"/><circle cx="461.70" cy="60.94" r="2"/><circle cx="467.69" cy="60.94" r="2"/><circle cx="473.68" cy="60.94" r="2"/><circle cx="479.66" cy="60.94" r="2"/><circle cx="485.65" cy="60.94" r="2"/><circle cx="491.63" cy="60.94" r="2"/><circle cx="497.62" cy="60.94" r="2"/><circle cx="503.61" cy="60.94" r="2"/><circle cx="509.59" cy="60.94" r="2"/><circle cx="515.58" cy="60.94" r="2"/><circle cx="521.56" cy="60.94" r="2"/><circle cx="527.55" cy="60.94" r="2"/><circle cx="533.54" cy="60.94" r="2"/><circle cx="539.52" cy="60.94" r="2"/><circle cx="545.51" cy="60.94" r="2"/><circle cx="551.49" cy="60.94" r="2"/><circle cx="557.48" cy="60.94" r="2"/><circle cx="563.47" cy="60.94" r="2"/><circle cx="569.45" cy="60.94" r="2"/><circle cx="575.44" cy="60.94" r="2"/><circle cx="581.42" cy="60.94" r="2"/><circle cx="587.41" cy="60.94" r="2"/><circle cx="593.40" cy="60.94" r="2"/><circle cx="599.38" cy="60.94" r="2"/><circle cx="605.37" cy="60.94" r="2"/><circle cx="611.35" cy="60.94" r="2"/><circle cx="617.34" cy="60.94" r="2"/><circle cx="623.33" cy="60.94" r="2"/><circle cx="629.31" cy="60.94" r="2"/><circle cx="635.30" cy="60.94" r="2"/><circle cx="641.28" cy="60.94" r="2"/><circle cx="647.27" cy="60.94" r="2"/><circle cx="653.26" cy="60.94" r="2"/><circle cx="659.24" cy="60.94" r="2"/><circle cx="665.23" cy="60.94" r="2"/><circle cx="671.21" cy="60.94" r="2"/><circle cx="677.20" cy="60.94" r="2"/></g><path d="M78.60,352.55 L80.10,347.37 L81.59,342.19 L83.09,337.00 L84.59,331.82 L86.08,326.64 L87.58,321.46 L89.08,316.28 L90.57,311.09 L92.07,305.91 L93.56,300.74 L95.06,295.57 L96.56,290.39 L98.05,285.21 L99.55,280.03 L101.05,274.84 L102.54,269.64 L104.04,264.41 L105.54,259.14 L107.03,253.87 L108.53,248.59 L110.03,243.34 L111.52,238.13 L113.02,232.97 L114.52,227.84 L116.01,222.68 L117.51,217.53 L119.01,212.44 L120.50,207.46 L122.00,202.64 L123.50,198.03 L124.99,193.63 L126.49,189.39 L127.98,185.29 L129.48,181.28 L130.98,177.34 L132.47,173.43 L133.97,169.56 L135.47,165.75 L136.96,162.04 L138.46,158.46 L139.96,154.99 L141.45,151.63 L142.95,148.38 L144.45,145.27 L145.94,142.31 L147.44,139.47 L148.94,136.71 L150.43,133.96 L151.93,131.20 L153.43,128.45 L154.92,125.75 L156.42,123.12 L157.91,120.52 L159.41,117.95 L160.91,115.50 L162.40,113.23 L163.90,111.16 L165.40,109.22 L166.89,107.40 L168.39,105.69 L169.89,104.14 L171.38,102.68 L172.88,101.24 L174.38,99.83 L175.87,98.43 L177.37,97.03 L178.87,95.56 L180.36,94.05 L181.86,92.62 L183.36,91.37 L184.85,90.32 L186.35,89.37 L187.84,88.49 L189.34,87.66 L190.84,86.83 L192.33,85.99 L193.83,85.18 L195.33,84.39 L196.82,83.62 L198.32,82.89 L199.82,82.20 L201.31,81.55 L202.81,80.90 L204.31,80.25 L205.80,79.58 L207.30,78.90 L208.80,78.24 L210.29,77.62 L211.79,77.03 L213.28,76.47 L214.78,75.92 L216.28,75.39 L217.77,74.87 L219.27,74.36 L220.77,73.86 L222.26,73.38 L223.76,72.90 L225.26,72.45 L226.75,72.01 L228.25,71.57 L229.75,71.15 L231.24,70.72 L232.74,70.29 L234.24,69.86 L235.73,69.41 L237.23,68.95 L238.73,68.46 L240.22,67.94 L241.72,67.41 L243.22,66.89 L244.71,66.39 L246.21,65.93 L247.70,65.50 L249.20,65.09 L250.70,64.69 L252.19,64.30 L253.69,63.93 L255.19,63.57 L256.68,63.23 L258.18,62.92 L259.68,62.61 L261.17,62.32 L262.67,62.04 L264.17,61.77 L265.66,61.51 L267.16,61.27 L268.66,61.05 L270.15,60.84 L271.65,60.66 L273.14,60.48 L274.64,60.31 L276.14,60.15 L277.63,60.00 L279.13,59.86 L280.63,59.73 L282.12,59.62 L283.62,59.51 L285.12,59.41 L286.61,59.31 L288.11,59.22 L289.61,59.14 L291.10,59.06 L292.60,59.00 L294.10,58.96 L295.59,58.92 L297.09,58.89 L298.59,58.86 L300.08,58.83 L301.58,58.81 L303.08,58.79 L304.57,58.78 L306.07,58.77 L307.56,58.77 L309.06,58.77 L310.56,58.77 L312.05,58.77 L313.55,58.77 L315.05,58.77 L316.54,58.77 L318.04,58.77 L319.54,58.77 L321.03,58.78 L322.53,58.79 L324.03,58.80 L325.52,58.82 L327.02,58.83 L328.52,58.85 L330.01,58.87 L331.51,58.89 L333.00,58.92 L334.50,58.94 L336.00,58.96 L337.49,58.99 L338.99,59.02 L340.49,59.05 L341.98,59.09 L343.48,59.13 L344.98,59.17 L346.47,59.22 L347.97,59.26 L349.47,59.31 L350.96,59.35 L352.46,59.39 L353.96,59.43 L355.45,59.47 L356.95,59.51 L358.45,59.54 L359.94,59.58 L361.44,59.61 L362.94,59.65 L364.43,59.69 L365.93,59.72 L367.42,59.76 L368.92,59.79 L370.42,59.82 L371.91,59.86 L373.41,59.89 L374.91,59.93 L376.40,59.96 L377.90,60.00 L379.40,60.03 L380.89,60.07 L382.39,60.10 L383.89,60.14 L385.38,60.18 L386.88,60.21 L388.38,60.25 L389.87,60.29 L391.37,60.33 L392.87,60.36 L394.36,60.40 L395.86,60.43 L397.35,60.47 L398.85,60.50 L400.35,60.53 L401.84,60.56 L403.34,60.59 L404.84,60.61 L406.33,60.64 L407.83,60.66 L409.33,60.68 L410.82,60.70 L412.32,60.72 L413.82,60.74 L415.31,60.76 L416.81,60.78 L418.31,60.79 L419.80,60.81 L421.30,60.83 L422.80,60.85 L424.29,60.86 L425.79,60.88 L427.28,60.89 L428.78,60.90 L430.28,60.91 L431.77,60.92 L433.27,60.93 L434.77,60.93 L436.26,60.94 L437.76,60.94 L439.26,60.94 L440.75,60.94 L442.25,60.94 L443.75,60.94 L445.24,60.94 L446.74,60.94 L448.24,60.94 L449.73,60.94 L451.23,60.94 L452.73,60.94 L454.22,60.94 L455.72,60.94 L457.21,60.94 L458.71,60.94 L460.21,60.94 L461.70,60.94 L463.20,60.94 L464.70,60.94 L466.19,60.94 L467.69,60.94 L469.19,60.94 L470.68,60.94 L472.18,60.94 L473.68,60.94 L475.17,60.94 L476.67,60.94 L478.17,60.94 L479.66,60.94 L481.16,60.94 L482.66,60.94 L484.15,60.94 L485.65,60.94 L487.14,60.94 L488.64,60.94 L490.14,60.94 L491.63,60.94 L493.13,60.94 L494.63,60.94 L496.12,60.94 L497.62,60.94 L499.12,60.94 L500.61,60.94 L502.11,60.94 L503.61,60.94 L505.10,60.94 L506.60,60.94 L508.10,60.94 L509.59,60.94 L511.09,60.94 L512.59,60.94 L514.08,60.94 L515.58,60.94 L517.07,60.94 L518.57,60.94 L520.07,60.94 L521.56,60.94 L523.06,60.94 L524.56,60.94 L526.05,60.94 L527.55,60.94 L529.05,60.94 L530.54,60.94 L532.04,60.94 L533.54,60.94 L535.03,60.94 L536.53,60.94 L538.03,60.94 L539.52,60.94 L541.02,60.94 L542.51,60.94 L544.01,60.94 L545.51,60.94 L547.00,60.94 L548.50,60.94 L550.00,60.94 L551.49,60.94 L552.99,60.94 L554.49,60.94 L555.98,60.94 L557.48,60.94 L558.98,60.94 L560.47,60.94 L561.97,60.94 L563.47,60.94 L564.96,60.94 L566.46,60.94 L567.96,60.94 L569.45,60.94 L570.95,60.94 L572.45,60.94 L573.94,60.94 L575.44,60.94 L576.93,60.94 L578.43,60.94 L579.93,60.94 L581.42,60.94 L582.92,60.94 L584.42,60.94 L585.91,60.94 L587.41,60.94 L588.91,60.94 L590.40,60.94 L591.90,60.94 L593.40,60.94 L594.89,60.94 L596.39,60.94 L597.89,60.94 L599.38,60.94 L600.88,60.94 L602.38,60.94 L603.87,60.94 L605.37,60.94 L606.86,60.94 L608.36,60.94 L609.86,60.94 L611.35,60.94 L612.85,60.94 L614.35,60.94 L615.84,60.94 L617.34,60.94 L618.84,60.94 L620.33,60.94 L621.83,60.94 L623.33,60.94 L624.82,60.94 L626.32,60.94 L627.82,60.94 L629.31,60.94 L630.81,60.94 L632.31,60.94 L633.80,60.94 L635.30,60.94 L636.79,60.94 L638.29,60.94 L639.79,60.94 L641.28,60.94 L642.78,60.94 L644.28,60.94 L645.77,60.94 L647.27,60.94 L648.77,60.94 L650.26,60.94 L651.76,60.94 L653.26,60.94 L654.75,60.94 L656.25,60.94 L657.75,60.94 L659.24,60.94 L660.74,60.94 L662.24,60.94 L663.73,60.94 L665.23,60.94 L666.72,60.94 L668.22,60.94 L669.72,60.94 L671.21,60.94 L672.71,60.94 L674.21,60.94 L675.70,60.94 L677.20,60.94" stroke="#ff0000" stroke-width="1.0" stroke-dasharray="7 3 1.4 3.3"/><path d="M78.60,352.55 L80.10,347.13 L81.59,341.71 L83.09,336.30 L84.59,330.88 L86.08,325.46 L87.58,320.04 L89.08,314.63 L90.57,309.21 L92.07,303.79 L93.56,298.36 L95.06,292.93 L96.56,287.50 L98.05,282.07 L99.55,276.66 L101.05,271.25 L102.54,265.87 L104.04,260.49 L105.54,255.12 L107.03,249.76 L108.53,244.42 L110.03,239.11 L111.52,233.83 L113.02,228.56 L114.52,223.29 L116.01,218.04 L117.51,212.85 L119.01,207.74 L120.50,202.74 L122.00,197.81 L123.50,192.92 L124.99,188.10 L126.49,183.39 L127.98,178.80 L129.48,174.39 L130.98,170.14 L132.47,166.01 L133.97,162.09 L135.47,158.46 L136.96,155.05 L138.46,151.81 L139.96,148.83 L141.45,146.21 L142.95,143.94 L144.45,141.91 L145.94,140.02 L147.44,138.22 L148.94,136.41 L150.43,134.59 L151.93,132.80 L153.43,131.05 L154.92,129.35 L156.42,127.70 L157.91,126.11 L159.41,124.61 L160.91,123.16 L162.40,121.71 L163.90,120.25 L165.40,118.79 L166.89,117.33 L168.39,115.87 L169.89,114.40 L171.38,112.92 L172.88,111.46 L174.38,110.03 L175.87,108.62 L177.37,107.24 L178.87,105.88 L180.36,104.56 L181.86,103.29 L183.36,102.04 L184.85,100.82 L186.35,99.61 L187.84,98.40 L189.34,97.18 L190.84,95.98 L192.33,94.76 L193.83,93.53 L195.33,92.27 L196.82,91.04 L198.32,89.86 L199.82,88.75 L201.31,87.68 L202.81,86.64 L204.31,85.62 L205.80,84.62 L207.30,83.65 L208.80,82.69 L210.29,81.75 L211.79,80.83 L213.28,79.93 L214.78,79.05 L216.28,78.18 L217.77,77.31 L219.27,76.45 L220.77,75.63 L222.26,74.88 L223.76,74.21 L225.26,73.60 L226.75,73.01 L228.25,72.43 L229.75,71.86 L231.24,71.30 L232.74,70.74 L234.24,70.20 L235.73,69.66 L237.23,69.14 L238.73,68.61 L240.22,68.08 L241.72,67.56 L243.22,67.05 L244.71,66.57 L246.21,66.12 L247.70,65.69 L249.20,65.28 L250.70,64.88 L252.19,64.50 L253.69,64.12 L255.19,63.77 L256.68,63.43 L258.18,63.11 L259.68,62.79 L261.17,62.49 L262.67,62.19 L264.17,61.90 L265.66,61.63 L267.16,61.38 L268.66,61.15 L270.15,60.94 L271.65,60.75 L273.14,60.57 L274.64,60.40 L276.14,60.24 L277.63,60.09 L279.13,59.95 L280.63,59.83 L282.12,59.71 L283.62,59.61 L285.12,59.51 L286.61,59.41 L288.11,59.33 L289.61,59.25 L291.10,59.17 L292.60,59.11 L294.10,59.05 L295.59,59.00 L297.09,58.95 L298.59,58.91 L300.08,58.86 L301.58,58.83 L303.08,58.80 L304.57,58.78 L306.07,58.77 L307.56,58.77 L309.06,58.77 L310.56,58.77 L312.05,58.77 L313.55,58.77 L315.05,58.77 L316.54,58.77 L318.04,58.77 L319.54,58.77 L321.03,58.78 L322.53,58.79 L324.03,58.80 L325.52,58.82 L327.02,58.83 L328.52,58.85 L330.01,58.87 L331.51,58.89 L333.00,58.92 L334.50,58.94 L336.00,58.96 L337.49,58.99 L338.99,59.02 L340.49,59.05 L341.98,59.09 L343.48,59.13 L344.98,59.17 L346.47,59.22 L347.97,59.26 L349.47,59.31 L350.96,59.35 L352.46,59.39 L353.96,59.43 L355.45,59.47 L356.95,59.51 L358.45,59.54 L359.94,59.58 L361.44,59.61 L362.94,59.65 L364.43,59.69 L365.93,59.72 L367.42,59.76 L368.92,59.79 L370.42,59.82 L371.91,59.86 L373.41,59.89 L374.91,59.93 L376.40,59.96 L377.90,60.00 L379.40,60.03 L380.89,60.07 L382.39,60.10 L383.89,60.14 L385.38,60.18 L386.88,60.21 L388.38,60.25 L389.87,60.29 L391.37,60.33 L392.87,60.36 L394.36,60.40 L395.86,60.43 L397.35,60.47 L398.85,60.50 L400.35,60.53 L401.84,60.56 L403.34,60.59 L404.84,60.61 L406.33,60.64 L407.83,60.66 L409.33,60.68 L410.82,60.70 L412.32,60.72 L413.82,60.74 L415.31,60.76 L416.81,60.78 L418.31,60.79 L419.80,60.81 L421.30,60.83 L422.80,60.85 L424.29,60.86 L425.79,60.88 L427.28,60.89 L428.78,60.90 L430.28,60.91 L431.77,60.92 L433.27,60.93 L434.77,60.93 L436.26,60.94 L437.76,60.94 L439.26,60.94 L440.75,60.94 L442.25,60.94 L443.75,60.94 L445.24,60.94 L446.74,60.94 L448.24,60.94 L449.73,60.94 L451.23,60.94 L452.73,60.94 L454.22,60.94 L455.72,60.94 L457.21,60.94 L458.71,60.94 L460.21,60.94 L461.70,60.94 L463.20,60.94 L464.70,60.94 L466.19,60.94 L467.69,60.94 L469.19,60.94 L470.68,60.94 L472.18,60.94 L473.68,60.94 L475.17,60.94 L476.67,60.94 L478.17,60.94 L479.66,60.94 L481.16,60.94 L482.66,60.94 L484.15,60.94 L485.65,60.94 L487.14,60.94 L488.64,60.94 L490.14,60.94 L491.63,60.94 L493.13,60.94 L494.63,60.94 L496.12,60.94 L497.62,60.94 L499.12,60.94 L500.61,60.94 L502.11,60.94 L503.61,60.94 L505.10,60.94 L506.60,60.94 L508.10,60.94 L509.59,60.94 L511.09,60.94 L512.59,60.94 L514.08,60.94 L515.58,60.94 L517.07,60.94 L518.57,60.94 L520.07,60.94 L521.56,60.94 L523.06,60.94 L524.56,60.94 L526.05,60.94 L527.55,60.94 L529.05,60.94 L530.54,60.94 L532.04,60.94 L533.54,60.94 L535.03,60.94 L536.53,60.94 L538.03,60.94 L539.52,60.94 L541.02,60.94 L542.51,60.94 L544.01,60.94 L545.51,60.94 L547.00,60.94 L548.50,60.94 L550.00,60.94 L551.49,60.94 L552.99,60.94 L554.49,60.94 L555.98,60.94 L557.48,60.94 L558.98,60.94 L560.47,60.94 L561.97,60.94 L563.47,60.94 L564.96,60.94 L566.46,60.94 L567.96,60.94 L569.45,60.94 L570.95,60.94 L572.45,60.94 L573.94,60.94 L575.44,60.94 L576.93,60.94 L578.43,60.94 L579.93,60.94 L581.42,60.94 L582.92,60.94 L584.42,60.94 L585.91,60.94 L587.41,60.94 L588.91,60.94 L590.40,60.94 L591.90,60.94 L593.40,60.94 L594.89,60.94 L596.39,60.94 L597.89,60.94 L599.38,60.94 L600.88,60.94 L602.38,60.94 L603.87,60.94 L605.37,60.94 L606.86,60.94 L608.36,60.94 L609.86,60.94 L611.35,60.94 L612.85,60.94 L614.35,60.94 L615.84,60.94 L617.34,60.94 L618.84,60.94 L620.33,60.94 L621.83,60.94 L623.33,60.94 L624.82,60.94 L626.32,60.94 L627.82,60.94 L629.31,60.94 L630.81,60.94 L632.31,60.94 L633.80,60.94 L635.30,60.94 L636.79,60.94 L638.29,60.94 L639.79,60.94 L641.28,60.94 L642.78,60.94 L644.28,60.94 L645.77,60.94 L647.27,60.94 L648.77,60.94 L650.26,60.94 L651.76,60.94 L653.26,60.94 L654.75,60.94 L656.25,60.94 L657.75,60.94 L659.24,60.94 L660.74,60.94 L662.24,60.94 L663.73,60.94 L665.23,60.94 L666.72,60.94 L668.22,60.94 L669.72,60.94 L671.21,60.94 L672.71,60.94 L674.21,60.94 L675.70,60.94 L677.20,60.94" stroke="#000000" stroke-width="1.0" stroke-dasharray="7 3 1.4 3.3"/></g><g font-family="Liberation Serif" font-size="21" fill="#262626"><text x="78.6" y="514.8" text-anchor="middle">0</text><text x="198.3" y="514.8" text-anchor="middle">0.2</text><text x="318.0" y="514.8" text-anchor="middle">0.4</text><text x="437.8" y="514.8" text-anchor="middle">0.6</text><text x="557.5" y="514.8" text-anchor="middle">0.8</text><text x="677.2" y="514.8" text-anchor="middle">1</text><text x="68.6" y="22.1" text-anchor="end">0.5</text><text x="68.6" y="69.2" text-anchor="end">0</text><text x="68.6" y="116.3" text-anchor="end">-0.5</text><text x="68.6" y="163.4" text-anchor="end">-1</text><text x="68.6" y="210.5" text-anchor="end">-1.5</text><text x="68.6" y="257.7" text-anchor="end">-2</text><text x="68.6" y="304.8" text-anchor="end">-2.5</text><text x="68.6" y="351.9" text-anchor="end">-3</text><text x="68.6" y="399.0" text-anchor="end">-3.5</text><text x="68.6" y="446.1" text-anchor="end">-4</text><text x="68.6" y="493.2" text-anchor="end">-4.5</text></g><g fill="none" stroke="#262626" stroke-linecap="round"><path d="M374.8,534.2 C375.3,531.2 377.4,529.9 379.2,530.3 C380.5,530.6 380.9,531.6 380.6,532.8 L379.1,538.8 C378.8,540.2 379.4,541.1 380.7,541.0 C382.4,540.9 383.8,539.6 384.5,537.9" stroke-width="1.25"/><path d="M380.8,531.6 C381.6,530.5 382.9,530.0 384.2,530.6" stroke-width="1.0"/><path d="M379.0,539.4 C378.4,540.6 377.3,541.1 376.2,541.0 C375.6,540.9 375.2,540.5 375.1,540.0" stroke-width="1.0"/></g><g fill="#262626"><circle cx="384.3" cy="531.7" r="1.05"/><circle cx="375.4" cy="539.6" r="1.05"/></g><text transform="translate(20.5,248) rotate(-90) scale(0.9,1)" font-family="Liberation Serif" font-style="italic" font-size="26.5" text-anchor="middle" fill="#262626">M</text><rect x="370.5" y="123.5" width="286.0" height="196.0" fill="#fff" stroke="#262626" stroke-width="1"/><path d="M375.2,142.5 H430.5" stroke="#ff0000" stroke-width="1"/><text x="434.5" y="145.1" font-family="Liberation Serif" font-size="20" fill="#000">MGT at <tspan font-style="italic">t</tspan><tspan font-style="italic" font-size="14" dy="8.5">0</tspan><tspan dy="-8.5" dx="1.8">=</tspan><tspan font-style="italic" dx="1.5">0.01</tspan></text><path d="M375.2,173.5 H430.5" stroke="#000000" stroke-width="1"/><text x="434.5" y="176.1" font-family="Liberation Serif" font-size="20" fill="#000">Fractional MGT at <tspan font-style="italic">t</tspan><tspan font-style="italic" font-size="14" dy="8.5">0</tspan><tspan dy="-8.5" dx="1.8">=</tspan><tspan font-style="italic" dx="1.5">0.01</tspan></text><path d="M375.2,205.5 H430.5" stroke="#ff0000" stroke-width="1"/><circle cx="403.3" cy="205.5" r="1.75" fill="#ff0000"/><text x="434.5" y="208.1" font-family="Liberation Serif" font-size="20" fill="#000">MGT at <tspan font-style="italic">t</tspan><tspan font-style="italic" font-size="14" dy="8.5">0</tspan><tspan dy="-8.5" dx="1.8">=</tspan><tspan font-style="italic" dx="1.5">0.1</tspan></text><path d="M375.2,237.5 H430.5" stroke="#000000" stroke-width="1"/><circle cx="403.3" cy="237.5" r="1.75" fill="#000000"/><text x="434.5" y="240.1" font-family="Liberation Serif" font-size="20" fill="#000">Fractional MGT at <tspan font-style="italic">t</tspan><tspan font-style="italic" font-size="14" dy="8.5">0</tspan><tspan dy="-8.5" dx="1.8">=</tspan><tspan font-style="italic" dx="1.5">0.1</tspan></text><path d="M375.2,269.5 H430.5" stroke="#ff0000" stroke-width="1" stroke-dasharray="7 3 1.4 3.3"/><text x="434.5" y="272.1" font-family="Liberation Serif" font-size="20" fill="#000">MGT at <tspan font-style="italic">t</tspan><tspan font-style="italic" font-size="14" dy="8.5">0</tspan><tspan dy="-8.5" dx="1.8">=</tspan><tspan font-style="italic" dx="1.5">0.5</tspan></text><path d="M375.2,301.5 H430.5" stroke="#000000" stroke-width="1" stroke-dasharray="7 3 1.4 3.3"/><text x="434.5" y="304.1" font-family="Liberation Serif" font-size="20" fill="#000">Fractional MGT at <tspan font-style="italic">t</tspan><tspan font-style="italic" font-size="14" dy="8.5">0</tspan><tspan dy="-8.5" dx="1.8">=</tspan><tspan font-style="italic" dx="1.5">0.5</tspan></text></svg>
</body></html>
